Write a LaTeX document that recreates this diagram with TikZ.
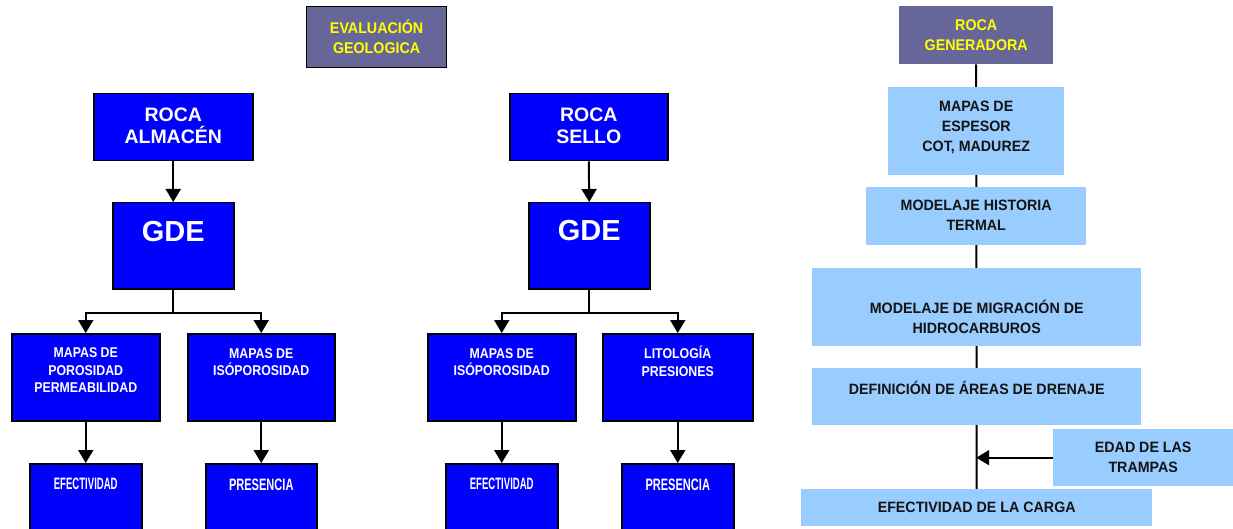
\documentclass[tikz,border=0pt]{standalone}
\usepackage{fontspec}
\setmainfont{Liberation Sans}
\newfontfamily\fA{Liberation Sans}
\newfontfamily\fN{Liberation Sans}[FakeStretch=0.87]
\newfontfamily\fC{Liberation Sans}[FakeStretch=0.58]
\newfontfamily\fD{Liberation Sans}[FakeStretch=0.67]
\newfontfamily\fY{Liberation Sans}[FakeStretch=0.92]
\newfontfamily\fR{Liberation Sans}[FakeStretch=0.95]
\usetikzlibrary{arrows.meta,backgrounds}
\definecolor{bblue}{HTML}{0000FF}
\definecolor{slate}{HTML}{666699}
\definecolor{lblue}{HTML}{99CCFF}
\definecolor{yel}{HTML}{FFFF00}
\begin{document}
\begin{tikzpicture}[x=1pt,y=-1pt,
  bluebox/.style={draw=black, line width=1.5pt, fill=bblue, anchor=north west, inner sep=0pt},
  slatebox/.style={fill=slate, anchor=north west, inner sep=0pt},
  lightbox/.style={fill=lblue, anchor=north west, inner sep=0pt},
  lab/.style={anchor=center, align=center, inner sep=0pt},
  bigw/.style={lab, text=white, font=\fA\bfseries\fontsize{19.5}{22}\selectfont},
  gdew/.style={lab, text=white, font=\fA\bfseries\fontsize{29}{30}\selectfont},
  smallw/.style={lab, text=white, font=\fN\bfseries\fontsize{14.2}{17.5}\selectfont},
  condw/.style={lab, text=white, font=\fC\bfseries\fontsize{16.5}{19}\selectfont},
  condp/.style={lab, text=white, font=\fD\bfseries\fontsize{16.5}{19}\selectfont},
  yeltxt/.style={lab, text=yel, font=\fY\bfseries\fontsize{15.5}{20}\selectfont},
  darktxt/.style={lab, text=black!92, font=\fR\bfseries\fontsize{15}{20}\selectfont},
  conn/.style={line width=2pt},
  arr/.style={line width=2pt, -{Triangle[width=15pt,length=13pt]}}]
\useasboundingbox (0,0) rectangle (1233,529);
\clip (0,0) rectangle (1233,529);

% title
\node[slatebox, draw=black, line width=1.2pt, minimum width=140pt, minimum height=61pt,
  label={[yeltxt,yshift=-31pt]north:EVALUACIÓN\\GEOLOGICA}] (ev) at (306,6) {};

% left tree
\node[bluebox, minimum width=159pt, minimum height=67pt,
  label={[bigw,yshift=-33pt]north:ROCA\\ALMACÉN}] (ra) at (93,93) {};
\node[bluebox, minimum width=121pt, minimum height=86pt,
  label={[gdew,yshift=-30pt]north:GDE}] (g1) at (112,202) {};
\node[bluebox, minimum width=148pt, minimum height=87pt,
  label={[smallw,yshift=-37.5pt]north:MAPAS DE\\POROSIDAD\\PERMEABILIDAD}] (m1) at (11,333) {};
\node[bluebox, minimum width=147pt, minimum height=87pt,
  label={[smallw,yshift=-29pt]north:MAPAS DE\\ISÓPOROSIDAD}] (m2) at (187,333) {};
\node[bluebox, minimum width=112pt, minimum height=75pt,
  label={[condw,yshift=-21pt]north:EFECTIVIDAD}] (e1) at (29,463) {};
\node[bluebox, minimum width=111pt, minimum height=75pt,
  label={[condp,yshift=-22pt]north:PRESENCIA}] (p1) at (205,463) {};

% middle tree
\node[bluebox, minimum width=158pt, minimum height=67pt,
  label={[bigw,yshift=-33pt]north:ROCA\\SELLO}] (rs) at (509,93) {};
\node[bluebox, minimum width=121pt, minimum height=86pt,
  label={[gdew,yshift=-29pt]north:GDE}] (g2) at (528,202) {};
\node[bluebox, minimum width=148pt, minimum height=87pt,
  label={[smallw,yshift=-29pt]north:MAPAS DE\\ISÓPOROSIDAD}] (m3) at (427,333) {};
\node[bluebox, minimum width=150pt, minimum height=87pt,
  label={[smallw,yshift=-28.5pt]north:LITOLOGÍA\\PRESIONES}] (m4) at (602,333) {};
\node[bluebox, minimum width=112pt, minimum height=75pt,
  label={[condw,yshift=-21pt]north:EFECTIVIDAD}] (e2) at (445,463) {};
\node[bluebox, minimum width=112pt, minimum height=75pt,
  label={[condp,yshift=-22pt]north:PRESENCIA}] (p2) at (621,463) {};

% right column
\node[slatebox, minimum width=154pt, minimum height=58pt,
  label={[yeltxt,yshift=-29.5pt]north:ROCA\\GENERADORA}] (rg) at (899,6) {};
\node[lightbox, minimum width=176pt, minimum height=88pt,
  label={[darktxt,yshift=-40pt]north:MAPAS DE\\ESPESOR\\COT, MADUREZ}] (ms) at (888,87) {};
\node[lightbox, minimum width=220pt, minimum height=58pt,
  label={[darktxt,yshift=-28pt]north:MODELAJE HISTORIA\\TERMAL}] (mh) at (866,187) {};
\node[lightbox, minimum width=329pt, minimum height=78pt,
  label={[darktxt,yshift=-49pt]north:MODELAJE DE MIGRACIÓN DE\\HIDROCARBUROS}] (mm) at (812,268) {};
\node[lightbox, minimum width=329pt, minimum height=57pt,
  label={[darktxt,yshift=-20pt]north:DEFINICIÓN DE ÁREAS DE DRENAJE}] (da) at (812,368) {};
\node[lightbox, minimum width=180pt, minimum height=57pt,
  label={[darktxt,yshift=-28pt]north:EDAD DE LAS\\TRAMPAS}] (ed) at (1053,429) {};
\node[lightbox, minimum width=351pt, minimum height=37pt,
  label={[darktxt,yshift=-18pt]north:EFECTIVIDAD DE LA CARGA}] (ec) at (801,489) {};

% connectors left
\draw[arr] (ra.south) -- (g1.north);
\path (g1.south) ++(0,23) coordinate (j1);
\draw[conn] (g1.south) -- (j1);
\draw[arr] (j1) -| (m1.north);
\draw[arr] (j1) -| (m2.north);
\draw[arr] (m1.south) -- (e1.north);
\draw[arr] (m2.south) -- (p1.north);

% connectors middle
\draw[arr] (rs.south) -- (g2.north);
\path (g2.south) ++(0,23) coordinate (j2);
\draw[conn] (g2.south) -- (j2);
\draw[arr] (j2) -| (m3.north);
\draw[arr] (j2) -| (m4.north);
\draw[arr] (m3.south) -- (e2.north);
\draw[arr] (m4.south) -- (p2.north);

% connectors right
\begin{pgfonlayer}{background}
\draw[conn] (rg.south) -- (ec.north);
\end{pgfonlayer}
\draw[arr] (ed.west) -- (ed.west -| rg.south);
\end{tikzpicture}
\end{document}
